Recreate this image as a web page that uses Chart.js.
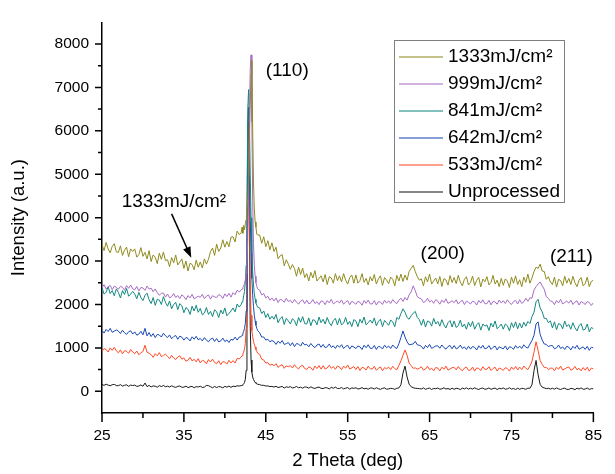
<!DOCTYPE html>
<html>
<head>
<meta charset="utf-8">
<script src="https://cdn.jsdelivr.net/npm/chart.js@4.4.1/dist/chart.umd.min.js"></script>
<style>
  html, body { margin: 0; padding: 0; background: #fff; }
  #wrap { width: 615px; height: 474px; }
</style>
</head>
<body>
<div id="wrap"><canvas id="xrdChart" width="615" height="474"></canvas></div>
<script>
// scan positions (2 theta, deg) - finer steps across the (110) peak
const twoTheta = [
  25,25.25,25.5,25.75,26,26.25,26.5,26.75,
  27,27.25,27.5,27.75,28,28.25,28.5,28.75,
  29,29.25,29.5,29.75,30,30.25,30.5,30.75,
  31,31.25,31.5,31.75,32,32.25,32.5,32.75,
  33,33.25,33.5,33.75,34,34.25,34.5,34.75,
  35,35.25,35.5,35.75,36,36.25,36.5,36.75,
  37,37.25,37.5,37.75,38,38.25,38.5,38.75,
  39,39.25,39.5,39.75,40,40.25,40.5,40.75,
  41,41.25,41.5,41.75,
  42,42.1,42.2,42.3,42.4,42.5,42.6,42.7,42.8,42.9,43,43.1,43.2,43.3,43.4,43.5,43.6,43.7,43.8,43.9,44,
  44.25,44.5,44.75,45,45.25,45.5,45.75,
  46,46.25,46.5,46.75,47,47.25,47.5,47.75,
  48,48.25,48.5,48.75,49,49.25,49.5,49.75,
  50,50.25,50.5,50.75,51,51.25,51.5,51.75,
  52,52.25,52.5,52.75,53,53.25,53.5,53.75,
  54,54.25,54.5,54.75,55,55.25,55.5,55.75,
  56,56.25,56.5,56.75,57,57.25,57.5,57.75,
  58,58.25,58.5,58.75,59,59.25,59.5,59.75,
  60,60.25,60.5,60.75,61,61.25,61.5,61.75,
  62,62.25,62.5,62.75,63,63.25,63.5,63.75,
  64,64.25,64.5,64.75,65,65.25,65.5,65.75,
  66,66.25,66.5,66.75,67,67.25,67.5,67.75,
  68,68.25,68.5,68.75,69,69.25,69.5,69.75,
  70,70.25,70.5,70.75,71,71.25,71.5,71.75,
  72,72.25,72.5,72.75,73,73.25,73.5,73.75,
  74,74.25,74.5,74.75,75,75.25,75.5,75.75,
  76,76.25,76.5,76.75,77,77.25,77.5,77.75,
  78,78.25,78.5,78.75,79,79.25,79.5,79.75,
  80,80.25,80.5,80.75,81,81.25,81.5,81.75,
  82,82.25,82.5,82.75,83,83.25,83.5,83.75,
  84,84.25,84.5,84.75,85
];

const counts1333 = [
  3380,3240,3430,3280,3190,3340,3400,3210,
  3200,3350,3130,3250,3320,3100,3280,3220,
  3280,3090,3150,3310,3110,3200,3050,3240,
  2990,3140,3090,2940,3180,3040,3210,3010,
  3030,2870,3080,2960,3140,2910,2980,3050,
  2830,3000,2770,2950,2920,2800,3020,2860,
  2980,2840,3050,2930,3040,3220,3300,3130,
  3390,3220,3300,3490,3320,3450,3330,3550,
  3560,3440,3690,3610,
  3650,3780,3640,3820,3720,3860,3950,4150,4450,4950,5800,6600,7300,7620,6000,4800,4200,3900,3780,3620,3600,
  3600,3410,3560,3330,3470,3260,3420,
  3220,3320,3050,3120,3150,2890,3030,2930,
  2810,2920,2830,2650,2860,2690,2840,2620,
  2710,2540,2740,2610,2780,2540,2600,2660,
  2520,2690,2460,2640,2610,2490,2710,2550,
  2660,2520,2710,2560,2470,2620,2680,2490,
  2680,2490,2550,2710,2510,2600,2450,2640,
  2540,2690,2470,2590,2660,2440,2620,2560,
  2480,2630,2580,2430,2670,2540,2700,2530,
  2680,2560,2760,2830,2900,2760,2640,2560,
  2590,2430,2640,2520,2700,2470,2540,2610,
  2475,2645,2415,2595,2565,2445,2665,2505,
  2620,2480,2670,2520,2430,2580,2640,2450,
  2505,2655,2435,2555,2625,2405,2585,2525,
  2640,2450,2510,2670,2470,2560,2410,2600,
  2440,2590,2540,2390,2630,2490,2660,2460,
  2570,2410,2630,2510,2700,2490,2610,2760,
  2860,2830,2930,2770,2760,2580,2640,2520,
  2460,2630,2400,2580,2550,2430,2650,2490,
  2600,2460,2650,2500,2410,2560,2620,2430,
  2480,2630,2410,2530,2560
];

const counts999 = [
  2386,2454,2355,2409,2440,2342,2422,2395,
  2350,2417,2395,2327,2435,2372,2448,2358,
  2338,2415,2312,2392,2379,2325,2424,2356,
  2376,2293,2358,2271,2210,2258,2265,2170,
  2240,2154,2181,2253,2163,2204,2136,2222,
  2183,2111,2205,2151,2233,2129,2160,2192,
  2166,2234,2135,2189,2220,2122,2202,2175,
  2160,2227,2205,2137,2245,2182,2258,2168,
  2272,2223,2328,2291,
  2330,2360,2390,2430,2480,2560,2700,2950,3500,4600,6300,7400,7750,6200,4400,3400,2900,2650,2500,2420,2360,
  2330,2220,2250,2150,2190,2100,2150,
  2078,2150,2045,2120,2100,2050,2140,2070,
  2096,2033,2118,2051,2010,2078,2105,2020,
  2100,2014,2041,2113,2023,2064,1996,2082,
  2068,1996,2090,2036,2118,2014,2045,2077,
  2036,2104,2005,2059,2090,1992,2072,2045,
  2005,2072,2050,1982,2090,2027,2103,2013,
  2013,2090,1987,2067,2054,2000,2099,2031,
  2086,2023,2113,2051,2020,2098,2145,2070,
  2160,2100,2220,2290,2430,2320,2180,2150,
  2130,2044,2071,2143,2053,2094,2026,2112,
  2078,2006,2100,2046,2128,2024,2055,2087,
  2041,2109,2010,2064,2095,1997,2077,2050,
  2010,2077,2055,1987,2095,2032,2108,2018,
  2018,2095,1992,2072,2059,2005,2104,2036,
  2086,2023,2108,2041,2000,2068,2095,2010,
  2110,2024,2061,2143,2073,2154,2146,2332,
  2410,2470,2520,2430,2350,2180,2140,2080,
  2068,1996,2090,2036,2118,2014,2045,2077,
  2031,2099,2000,2054,2085,1987,2067,2040,
  2000,2067,2045,1977,2040
];

const counts841 = [
  2390,2240,2280,2410,2250,2320,2200,2360,
  2280,2150,2320,2230,2370,2190,2240,2300,
  2240,2130,2280,2160,2090,2210,2260,2110,
  2020,2160,1980,2120,2100,2000,2180,2050,
  1960,2080,1900,2000,2050,1880,2020,1970,
  1810,1930,1890,1770,1960,1850,1980,1820,
  1910,1760,1800,1930,1770,1840,1720,1880,
  1830,1700,1870,1780,1920,1740,1790,1850,
  1920,1830,2010,1940,
  2000,2060,2090,2200,2300,2520,2900,4200,6500,6950,6200,5000,4000,3200,2750,2450,2250,2120,2030,1980,1940,
  1920,1790,1850,1700,1790,1660,1730,
  1660,1770,1580,1670,1720,1540,1680,1620,
  1550,1670,1630,1510,1700,1590,1720,1560,
  1550,1690,1510,1650,1630,1530,1710,1580,
  1660,1550,1700,1580,1510,1630,1680,1530,
  1680,1530,1570,1700,1540,1610,1490,1650,
  1620,1490,1660,1570,1710,1530,1580,1640,
  1570,1690,1510,1610,1660,1490,1630,1580,
  1520,1640,1600,1490,1700,1660,1790,1900,
  1820,1700,1660,1740,1800,1840,1700,1650,
  1520,1660,1480,1620,1600,1500,1680,1550,
  1610,1500,1650,1530,1460,1580,1630,1480,
  1620,1470,1510,1640,1480,1550,1430,1590,
  1490,1610,1430,1530,1580,1410,1550,1500,
  1530,1400,1570,1480,1620,1440,1490,1550,
  1430,1550,1510,1390,1580,1470,1600,1440,
  1570,1460,1590,1500,1610,1560,1720,1820,
  2060,2120,1920,1830,1680,1680,1580,1620,
  1460,1600,1420,1560,1540,1440,1620,1490,
  1540,1430,1580,1460,1390,1510,1560,1410,
  1430,1550,1370,1470,1440
];

const counts642 = [
  1406,1342,1426,1378,1450,1358,1386,1414,
  1387,1331,1407,1347,1311,1371,1395,1319,
  1369,1293,1317,1381,1301,1450,1277,1353,
  1262,1330,1238,1310,1298,1250,1338,1278,
  1238,1298,1210,1258,1286,1198,1270,1246,
  1179,1239,1219,1159,1255,1199,1267,1187,
  1217,1161,1237,1177,1141,1201,1225,1149,
  1214,1138,1162,1226,1146,1182,1122,1198,
  1178,1248,1180,1248,
  1260,1290,1330,1380,1450,1560,1850,3300,6100,6550,5000,4000,3200,2600,2200,1950,1750,1620,1520,1450,1400,
  1350,1250,1250,1180,1200,1140,1170,
  1146,1080,1156,1106,1170,1080,1096,1124,
  1052,1120,1028,1100,1088,1040,1128,1068,
  1082,1026,1102,1042,1006,1066,1090,1014,
  1079,1003,1027,1091,1011,1047,987,1063,
  1013,1073,985,1033,1061,973,1045,1021,
  984,1044,1024,964,1060,1004,1072,992,
  987,1055,963,1035,1023,975,1063,1003,
  1042,986,1067,1012,986,1096,1240,1390,
  1250,1140,1070,1080,1090,1150,1070,1060,
  1036,972,1056,1008,1080,988,1016,1044,
  1047,991,1067,1007,971,1031,1055,979,
  1054,978,1002,1066,986,1022,962,1038,
  972,1032,1012,952,1048,992,1060,980,
  993,1053,965,1013,1041,953,1025,1001,
  977,1045,953,1025,1013,965,1053,993,
  1042,986,1072,1017,996,1086,1170,1290,
  1550,1600,1310,1180,1090,1080,1030,1050,
  1054,978,1002,1066,986,1022,962,1038,
  1016,952,1036,988,1060,968,996,1024,
  967,1035,943,1015,1000
];

const counts533 = [
  924,984,964,904,1000,944,1012,932,
  887,955,863,935,923,875,963,903,
  868,928,840,888,916,1060,900,876,
  846,782,866,818,890,798,826,854,
  807,751,827,767,731,791,815,739,
  769,693,717,781,701,737,677,753,
  654,714,694,634,730,674,742,662,
  637,705,613,685,673,625,713,653,
  706,652,756,748,
  790,820,860,900,980,1100,1450,2900,5600,6200,4300,2500,1750,1400,1250,1150,1080,1020,960,920,880,
  850,740,720,650,660,600,625,
  588,638,550,590,612,530,586,564,
  592,536,612,552,516,576,600,524,
  504,564,544,484,580,524,592,512,
  589,513,537,601,531,567,507,583,
  561,497,581,533,605,513,541,569,
  502,570,478,550,538,490,578,518,
  513,573,485,533,561,473,545,521,
  557,501,577,522,496,596,700,830,
  950,830,650,590,530,540,510,530,
  564,488,512,576,496,532,472,548,
  536,472,556,508,580,488,516,544,
  550,494,570,510,474,534,558,482,
  490,558,466,538,526,478,566,506,
  506,566,478,526,554,466,538,514,
  484,544,524,464,560,504,572,492,
  557,501,582,527,501,581,690,900,
  1140,940,710,620,550,546,500,530,
  536,472,556,508,580,488,516,544,
  562,486,510,574,494,530,470,546,
  487,555,463,535,520
];

const countsUnprocessed = [
  157,136,165,142,128,151,160,131,
  130,153,120,138,149,115,143,133,
  142,113,122,146,116,190,107,136,
  101,124,117,94,130,109,135,104,
  119,98,127,104,90,113,122,93,
  95,118,85,103,114,80,108,98,
  117,88,97,135,130,105,82,111,
  86,109,102,79,115,94,120,89,
  120,108,126,122,
  130,138,150,170,205,275,480,1450,4600,6050,3850,1500,720,440,330,270,235,205,185,172,162,
  155,136,138,120,125,108,112,
  97,118,85,100,111,74,104,91,
  107,78,87,111,81,95,72,101,
  94,73,102,79,65,88,97,68,
  62,85,78,55,91,70,96,65,
  65,88,55,73,84,50,78,68,
  82,53,62,86,56,70,47,76,
  74,53,82,59,45,68,77,48,
  55,69,62,45,70,78,150,420,
  580,330,165,105,82,70,66,61,
  55,78,45,63,74,40,68,58,
  77,48,57,81,51,65,42,71,
  46,69,62,39,75,54,80,49,
  72,51,80,57,43,66,75,46,
  55,78,45,63,74,40,68,58,
  77,48,57,81,51,65,42,71,
  46,69,62,45,72,70,150,480,
  710,380,160,95,78,62,70,52,
  70,49,78,55,41,64,73,44,
  44,67,60,37,73,52,78,47,
  53,76,43,61,58
];

const seriesLabels = ['1333mJ/cm\u00b2', '999mJ/cm\u00b2', '841mJ/cm\u00b2', '642mJ/cm\u00b2', '533mJ/cm\u00b2', 'Unprocessed'];
const seriesCounts = [counts1333, counts999, counts841, counts642, counts533, countsUnprocessed];
const lineColors = ['#8f8b1e', '#a66cc6', '#12887e', '#1a48b4', '#ff4a26', '#1a1a1a'];

const xTicks = [25, 30, 35, 40, 45, 50, 55, 60, 65, 70, 75, 80, 85];
const xLabelTicks = [25, 35, 45, 55, 65, 75, 85];
const yTicks = [0, 500, 1000, 1500, 2000, 2500, 3000, 3500, 4000, 4500, 5000, 5500, 6000, 6500, 7000, 7500, 8000];
const yLabelTicks = [0, 1000, 2000, 3000, 4000, 5000, 6000, 7000, 8000];

const peakLabels = ['(110)', '(200)', '(211)'];
const peakLabelAt = [[45.0, 7390], [63.9, 3165], [79.7, 3097]];
const noteText = '1333mJ/cm\u00b2';
const noteAt = [27.4, 4357];
const arrowFrom = [33.5, 4087];
const arrowTo = [35.9, 3075];

const FONT = '"Liberation Sans", Arial, sans-serif';

const datasets = seriesLabels.map((label, i) => ({
    label: label,
    data: twoTheta.map((t, j) => ({ x: t, y: seriesCounts[i][j] })),
    borderColor: lineColors[i],
    backgroundColor: lineColors[i],
    borderWidth: 1,
    pointRadius: 0,
    tension: 0
}));

// outward major/minor tick marks like the original plot
const tickMarks = {
    id: 'tickMarks',
    afterDraw(chart) {
        const { ctx, chartArea, scales: { x, y } } = chart;
        ctx.save();
        ctx.strokeStyle = '#000';
        ctx.lineWidth = 1.5;
        ctx.beginPath();
        xTicks.forEach(v => {
            const px = x.getPixelForValue(v);
            const len = xLabelTicks.includes(v) ? 9 : 5;
            ctx.moveTo(px, chartArea.bottom);
            ctx.lineTo(px, chartArea.bottom + len);
        });
        yTicks.forEach(v => {
            const py = y.getPixelForValue(v);
            const len = yLabelTicks.includes(v) ? 7 : 4;
            ctx.moveTo(chartArea.left, py);
            ctx.lineTo(chartArea.left - len, py);
        });
        ctx.stroke();
        ctx.restore();
    }
};

const notes = {
    id: 'notes',
    afterDraw(chart) {
        const { ctx, scales: { x, y } } = chart;
        ctx.save();
        ctx.fillStyle = '#000';
        ctx.font = '19px ' + FONT;
        ctx.textAlign = 'left';
        ctx.textBaseline = 'middle';
        peakLabels.forEach((t, i) => {
            ctx.fillText(t, x.getPixelForValue(peakLabelAt[i][0]), y.getPixelForValue(peakLabelAt[i][1]));
        });
        ctx.fillText(noteText, x.getPixelForValue(noteAt[0]), y.getPixelForValue(noteAt[1]));

        // arrow to the 1333 hump
        const x1 = x.getPixelForValue(arrowFrom[0]), y1 = y.getPixelForValue(arrowFrom[1]);
        const x2 = x.getPixelForValue(arrowTo[0]), y2 = y.getPixelForValue(arrowTo[1]);
        const ang = Math.atan2(y2 - y1, x2 - x1);
        ctx.strokeStyle = '#000';
        ctx.lineWidth = 1.5;
        ctx.beginPath();
        ctx.moveTo(x1, y1);
        ctx.lineTo(x2 - 8 * Math.cos(ang), y2 - 8 * Math.sin(ang));
        ctx.stroke();
        ctx.beginPath();
        ctx.moveTo(x2, y2);
        ctx.lineTo(x2 - 11 * Math.cos(ang) + 4 * Math.sin(ang), y2 - 11 * Math.sin(ang) - 4 * Math.cos(ang));
        ctx.lineTo(x2 - 11 * Math.cos(ang) - 4 * Math.sin(ang), y2 - 11 * Math.sin(ang) + 4 * Math.cos(ang));
        ctx.closePath();
        ctx.fill();

        // legend box
        const box = { left: 394, top: 40, right: 564, bottom: 202 };
        ctx.fillStyle = '#fff';
        ctx.fillRect(box.left, box.top, box.right - box.left, box.bottom - box.top);
        ctx.strokeStyle = '#7f7f7f';
        ctx.lineWidth = 1;
        ctx.strokeRect(box.left + 0.5, box.top + 0.5, box.right - box.left, box.bottom - box.top);
        ctx.font = '19px ' + FONT;
        chart.data.datasets.forEach((ds, i) => {
            const ry = 57 + i * 27;
            ctx.globalAlpha = 0.7;
            ctx.strokeStyle = ds.borderColor;
            ctx.lineWidth = 1.5;
            ctx.beginPath();
            ctx.moveTo(399, ry);
            ctx.lineTo(443, ry);
            ctx.stroke();
            ctx.globalAlpha = 1;
            ctx.fillStyle = '#000';
            ctx.fillText(ds.label, 448, ry);
        });
        ctx.restore();
    }
};

const ctx = document.getElementById('xrdChart').getContext('2d');
const xrdChart = new Chart(ctx, {
    type: 'line',
    data: { datasets: datasets },
    options: {
        responsive: false,
        animation: false,
        devicePixelRatio: 1,
        layout: { padding: { top: 14, right: 17, left: 0, bottom: 0 } },
        plugins: {
            legend: { display: false },
            tooltip: { enabled: false }
        },
        scales: {
            x: {
                type: 'linear',
                min: 25,
                max: 85,
                afterBuildTicks: scale => { scale.ticks = xTicks.map(v => ({ value: v })); },
                afterFit: scale => { scale.height = 61; },
                ticks: {
                    color: '#000',
                    padding: 13,
                    maxRotation: 0,
                    autoSkip: false,
                    font: { family: FONT, size: 15.5 },
                    callback: v => xLabelTicks.includes(v) ? String(v) : ''
                },
                grid: { drawOnChartArea: false, drawTicks: false },
                border: { display: true, color: '#000', width: 1.5 },
                title: {
                    display: true,
                    text: '2 Theta (deg)',
                    color: '#000',
                    font: { family: FONT, size: 18.5 },
                    padding: { top: 0, bottom: 2 }
                }
            },
            y: {
                type: 'linear',
                min: -500,
                max: 8500,
                afterBuildTicks: scale => { scale.ticks = yTicks.map(v => ({ value: v })); },
                afterFit: scale => { scale.width = 102; },
                ticks: {
                    color: '#000',
                    padding: 13,
                    autoSkip: false,
                    font: { family: FONT, size: 15.5 },
                    callback: v => yLabelTicks.includes(v) ? String(v) : ''
                },
                grid: { drawOnChartArea: false, drawTicks: false },
                border: { display: true, color: '#000', width: 1.5 },
                title: {
                    display: true,
                    text: 'Intensity (a.u.)',
                    color: '#000',
                    font: { family: FONT, size: 18.5 },
                    padding: { top: 8, bottom: 0 }
                }
            }
        }
    },
    plugins: [tickMarks, notes]
});
</script>
</body>
</html>
